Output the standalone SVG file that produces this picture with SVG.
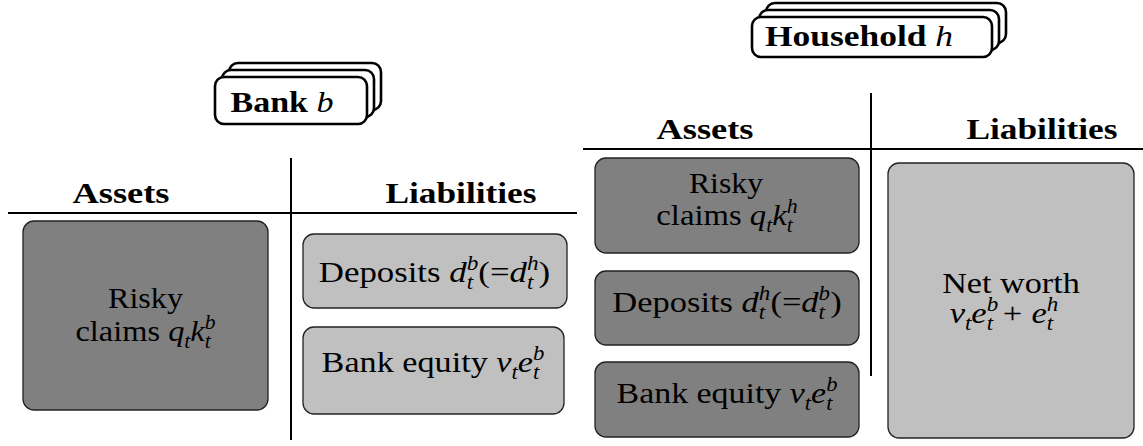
<svg xmlns="http://www.w3.org/2000/svg" width="1143" height="446" viewBox="0 0 1143 446">
<style>
.t{font-family:"Liberation Serif",serif;font-size:30px;fill:#000;text-anchor:middle}
.h{font-family:"Liberation Serif",serif;font-size:30px;font-weight:bold;fill:#000;text-anchor:middle}
.i{font-style:italic}
.s{font-style:italic;font-size:20px}
.ln{stroke:#000;stroke-width:2;fill:none}
.dk{fill:#808080;stroke:#222;stroke-width:1.3}
.lt{fill:#c0c0c0;stroke:#222;stroke-width:1.3}
.hd{fill:#fff;stroke:#000;stroke-width:2.6}
</style>
<rect width="1143" height="446" fill="#fff"/>
<g id="connectors">
<line class="ln" x1="8" y1="213" x2="577" y2="213"/>
<line class="ln" x1="291" y1="158" x2="291" y2="440"/>
<line class="ln" x1="583" y1="149" x2="1143" y2="149"/>
<line class="ln" x1="871" y1="93" x2="871" y2="376"/>
</g>
<g id="bank-header">
<rect class="hd" x="229" y="63" width="152" height="47" rx="9"/>
<rect class="hd" x="222" y="70" width="152" height="47" rx="9"/>
<rect class="hd" x="215" y="77" width="152" height="47" rx="9"/>
<text class="h" x="282" y="112" textLength="103" lengthAdjust="spacingAndGlyphs">Bank <tspan class="i" font-weight="normal">b</tspan></text>
</g>
<g id="household-header">
<rect class="hd" x="766" y="3" width="240" height="40" rx="9"/>
<rect class="hd" x="759" y="10" width="240" height="40" rx="9"/>
<rect class="hd" x="752" y="17" width="240" height="40" rx="9"/>
<text class="h" x="859" y="46" textLength="188" lengthAdjust="spacingAndGlyphs">Household <tspan class="i" font-weight="normal">h</tspan></text>
</g>
<g id="bank-labels">
<text class="h" x="121" y="203" textLength="97" lengthAdjust="spacingAndGlyphs">Assets</text>
<text class="h" x="461" y="203" textLength="151" lengthAdjust="spacingAndGlyphs">Liabilities</text>
</g>
<g id="household-labels">
<text class="h" x="705" y="139" textLength="97" lengthAdjust="spacingAndGlyphs">Assets</text>
<text class="h" x="1042" y="139" textLength="151" lengthAdjust="spacingAndGlyphs">Liabilities</text>
</g>
<g id="bank-risky">
<rect class="dk" x="23" y="221" width="245" height="189" rx="11"/>
<text class="t" x="145.5" y="308" transform="matrix(1.07,0,0,1,-10.19,0)">Risky</text>
<text class="t" x="145.5" y="341" transform="matrix(1.08,0,0,1,-11.64,0)">claims <tspan class="i">q</tspan><tspan class="s" dy="7">t</tspan><tspan class="i" dy="-7">k</tspan><tspan class="s" dy="-12">b</tspan><tspan class="s" dx="-10" dy="19">t</tspan></text>
</g>
<g id="bank-deposits">
<rect class="lt" x="303" y="234" width="264" height="74" rx="11"/>
<text class="t" x="434.5" y="282" transform="matrix(1.16,0,0,1,-69.52,0)">Deposits <tspan class="i">d</tspan><tspan class="s" dy="-12">b</tspan><tspan class="s" dx="-10" dy="19">t</tspan><tspan dx="4.5" dy="-7">(=</tspan><tspan class="i">d</tspan><tspan class="s" dy="-12">h</tspan><tspan class="s" dx="-10" dy="19">t</tspan><tspan dx="4.5" dy="-7">)</tspan></text>
</g>
<g id="bank-equity">
<rect class="lt" x="303" y="327" width="261" height="87" rx="11"/>
<text class="t" x="433" y="372" transform="matrix(1.14,0,0,1,-60.62,0)">Bank equity <tspan class="i">ν</tspan><tspan class="s" dy="7">t</tspan><tspan class="i" dy="-7">e</tspan><tspan class="s" dy="-12">b</tspan><tspan class="s" dx="-10" dy="19">t</tspan></text>
</g>
<g id="household-risky">
<rect class="dk" x="595" y="158" width="264" height="95" rx="11"/>
<text class="t" x="726" y="193" transform="matrix(1.06,0,0,1,-43.56,0)">Risky</text>
<text class="t" x="727" y="225" transform="matrix(1.09,0,0,1,-65.43,0)">claims <tspan class="i">q</tspan><tspan class="s" dy="7">t</tspan><tspan class="i" dy="-7">k</tspan><tspan class="s" dy="-12">h</tspan><tspan class="s" dx="-10" dy="19">t</tspan></text>
</g>
<g id="household-deposits">
<rect class="dk" x="595" y="271" width="264" height="74" rx="11"/>
<text class="t" x="727" y="312" transform="matrix(1.15,0,0,1,-109.05,0)">Deposits <tspan class="i">d</tspan><tspan class="s" dy="-12">h</tspan><tspan class="s" dx="-10" dy="19">t</tspan><tspan dx="4.5" dy="-7">(=</tspan><tspan class="i">d</tspan><tspan class="s" dy="-12">b</tspan><tspan class="s" dx="-10" dy="19">t</tspan><tspan dx="4.5" dy="-7">)</tspan></text>
</g>
<g id="household-equity">
<rect class="dk" x="595" y="362" width="264" height="75" rx="11"/>
<text class="t" x="727" y="403" transform="matrix(1.13,0,0,1,-94.51,0)">Bank equity <tspan class="i">ν</tspan><tspan class="s" dy="7">t</tspan><tspan class="i" dy="-7">e</tspan><tspan class="s" dy="-12">b</tspan><tspan class="s" dx="-10" dy="19">t</tspan></text>
</g>
<g id="household-networth">
<rect class="lt" x="888" y="163" width="246" height="275" rx="11"/>
<text class="t" x="1011" y="293" transform="matrix(1.14,0,0,1,-141.54,0)">Net worth</text>
<text class="t" x="1004" y="323" transform="matrix(1.15,0,0,1,-150.6,0)"><tspan class="i">ν</tspan><tspan class="s" dy="7">t</tspan><tspan class="i" dy="-7">e</tspan><tspan class="s" dy="-12">b</tspan><tspan class="s" dx="-10" dy="19">t</tspan><tspan dx="8.5" dy="-7">+</tspan><tspan class="i" dx="8">e</tspan><tspan class="s" dy="-12">h</tspan><tspan class="s" dx="-10" dy="19">t</tspan></text>
</g>
</svg>
